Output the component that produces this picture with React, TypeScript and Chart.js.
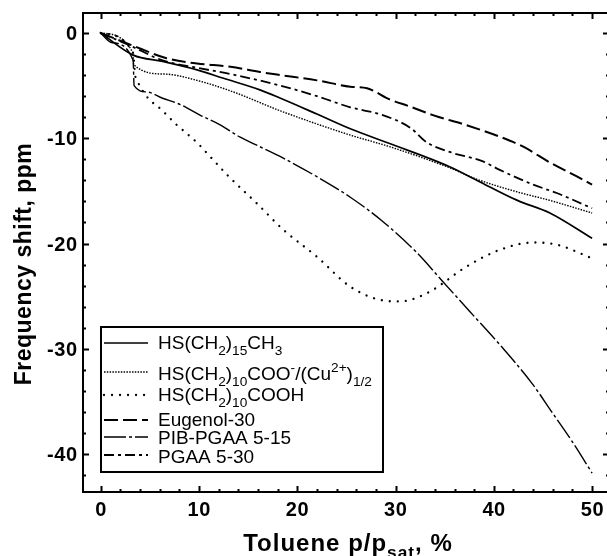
import React, { useEffect, useRef } from 'react';
import { Chart, registerables } from 'chart.js';
Chart.register(...registerables);

type P = [number, number];

// x: toluene p/psat (%), y: frequency shift (ppm)
const HS_CH3: P[] = [
  [0, 0], [3.3, -2.1], [6.3, -2.7], [9.8, -3.5], [12.5, -4.3], [16.2, -5.4], [18.3, -6.2],
  [22, -7.7], [25.4, -9.1], [29.4, -10.5], [35.5, -12.7], [38.3, -14.0], [42.4, -15.9],
  [45.7, -17.1], [50, -19.5],
];
const HS_COO_CU: P[] = [
  [0, 0], [3.3, -1.9], [3.35, -3.0], [6.5, -3.9], [9.8, -4.5], [13.5, -5.6], [18.3, -7.4],
  [25.4, -9.7], [29.4, -10.8], [35.5, -12.8], [38.3, -13.9], [42.4, -15.1], [45.7, -15.9],
  [50, -17.1],
];
const HS_COOH: P[] = [
  [0, 0], [3.3, -1.9], [3.5, -4.0], [3.7, -4.5], [4.7, -6.05], [6.2, -7.3], [7.7, -8.7],
  [8.7, -9.5], [9.9, -10.5], [10.8, -11.4], [13, -13.6], [15.9, -16.2], [18.6, -18.7],
  [22, -21.25], [25.4, -24.1], [28.7, -25.4], [30.4, -25.5], [32, -25.2], [33.8, -24.4],
  [37.2, -22.2], [40.6, -20.6], [44, -19.9], [46.4, -20.1], [50, -21.4],
];
const EUGENOL_30: P[] = [
  [0, 0], [3, -1.1], [6.7, -2.4], [9.8, -2.9], [13.2, -3.2], [16.2, -3.7], [18.3, -4.0],
  [22, -4.5], [25.4, -5.1], [27.1, -5.25], [29.4, -6.3], [31.5, -7.0], [33.8, -7.8],
  [37.2, -8.75], [40.6, -9.85], [43, -10.8], [45.7, -12.3], [48.4, -13.6], [50, -14.4],
];
const PIB_PGAA_5_15: P[] = [
  [0, 0], [1.1, -0.9], [3.3, -2.6], [3.4, -5.0], [4.7, -5.6], [6.3, -6.2], [8.1, -6.8],
  [10.1, -7.8], [12.1, -8.7], [14.2, -9.9], [16.2, -10.8], [18.3, -11.75], [22, -13.65],
  [25.4, -15.6], [28.7, -17.9], [32.1, -20.8], [34.8, -23.6], [37.6, -26.5], [40.6, -29.6],
  [43.9, -33.3], [45.9, -36.0], [47.9, -38.7], [50, -41.8],
];
const PGAA_5_30: P[] = [
  [0, 0], [3, -1.2], [6.3, -2.6], [9.8, -3.3], [13.2, -3.9], [18.3, -5.0], [22, -6.0],
  [25.4, -7.06], [28.7, -7.8], [31.5, -9.0], [33.2, -10.4], [35.5, -11.3], [38.9, -12.2],
  [40.6, -13.0], [44, -14.4], [46.4, -15.2], [50, -16.65],
];

const X_MAJOR = [0, 10, 20, 30, 40, 50];
const Y_MAJOR = [0, -10, -20, -30, -40];
const X_MIN = -1.8, X_MAX = 51.72, Y_MIN = -43.6, Y_MAX = 1.9;

type Run = { t: string; s?: 'sub' | 'sup' };
const LEGEND_LABELS: Run[][] = [
  [{ t: 'HS(CH' }, { t: '2', s: 'sub' }, { t: ')' }, { t: '15', s: 'sub' }, { t: 'CH' }, { t: '3', s: 'sub' }],
  [{ t: 'HS(CH' }, { t: '2', s: 'sub' }, { t: ')' }, { t: '10', s: 'sub' }, { t: 'COO' }, { t: '-', s: 'sup' },
   { t: '/(Cu' }, { t: '2+', s: 'sup' }, { t: ')' }, { t: '1/2', s: 'sub' }],
  [{ t: 'HS(CH' }, { t: '2', s: 'sub' }, { t: ')' }, { t: '10', s: 'sub' }, { t: 'COOH' }],
  [{ t: 'Eugenol-30' }],
  [{ t: 'PIB-PGAA 5-15' }],
  [{ t: 'PGAA 5-30' }],
];
const X_TITLE: Run[] = [{ t: 'Toluene p/p' }, { t: 'sat', s: 'sub' }, { t: ', %' }];
const Y_TITLE = 'Frequency shift, ppm';

const FONT = '"Liberation Sans", Arial, Helvetica, sans-serif';

function runFont(size: number, weight: string, r: Run) {
  const s = r.s ? size * 0.72 : size;
  return `${weight} ${s}px ${FONT}`;
}
function runsWidth(ctx: CanvasRenderingContext2D, runs: Run[], size: number, weight: string) {
  let w = 0;
  for (const r of runs) { ctx.font = runFont(size, weight, r); w += ctx.measureText(r.t).width; }
  return w;
}
function drawRuns(ctx: CanvasRenderingContext2D, runs: Run[], x: number, y: number, size: number, weight: string) {
  let cx = x;
  ctx.textBaseline = 'alphabetic';
  ctx.textAlign = 'left';
  for (const r of runs) {
    ctx.font = runFont(size, weight, r);
    const dy = r.s === 'sub' ? size * 0.3 : r.s === 'sup' ? -size * 0.42 : 0;
    ctx.fillText(r.t, cx, y + dy);
    cx += ctx.measureText(r.t).width;
  }
}

const overlay = {
  id: 'overlay',
  afterDraw(chart: any) {
    const ctx: CanvasRenderingContext2D = chart.ctx;
    const xs = chart.scales.x, ys = chart.scales.y;
    const { left, right, top, bottom } = chart.chartArea;
    ctx.save();
    ctx.fillStyle = '#000';
    ctx.strokeStyle = '#000';
    ctx.lineCap = 'butt';
    ctx.setLineDash([]);
    ctx.lineWidth = 2;
    ctx.strokeRect(left, top, right - left, bottom - top);

    // x ticks
    for (let v = 0; v <= 50; v += 2) {
      const major = X_MAJOR.includes(v);
      const len = major ? 6 : 3;
      const px = Math.round(xs.getPixelForValue(v)) + 0.5;
      ctx.lineWidth = 2;
      ctx.beginPath();
      ctx.moveTo(px, bottom); ctx.lineTo(px, bottom - len);
      ctx.moveTo(px, top); ctx.lineTo(px, top + len);
      ctx.stroke();
    }
    // y ticks
    for (let v = 0; v >= -42; v -= 2) {
      const major = Y_MAJOR.includes(v);
      const len = major ? 6 : 3;
      const py = Math.round(ys.getPixelForValue(v)) + 0.5;
      ctx.beginPath();
      ctx.moveTo(left, py); ctx.lineTo(left + len, py);
      ctx.moveTo(right, py); ctx.lineTo(right - len, py);
      ctx.stroke();
    }
    // tick labels
    const ls = 0.6;
    (ctx as any).letterSpacing = `${ls}px`;
    ctx.font = `bold 20px ${FONT}`;
    ctx.textBaseline = 'alphabetic';
    ctx.textAlign = 'left';
    for (const v of X_MAJOR) {
      const s = String(v);
      const w = ctx.measureText(s).width - ls;
      ctx.fillText(s, xs.getPixelForValue(v) - w / 2, 516);
    }
    for (const v of Y_MAJOR) {
      const s = String(v);
      const w = ctx.measureText(s).width - ls;
      ctx.fillText(s, 77 - w, ys.getPixelForValue(v) + 7);
    }
    // titles
    (ctx as any).letterSpacing = '1px';
    const tw = runsWidth(ctx, X_TITLE, 24, 'bold');
    drawRuns(ctx, X_TITLE, 348 - tw / 2, 551, 24, 'bold');
    (ctx as any).letterSpacing = '0.5px';
    ctx.save();
    ctx.translate(31, 264);
    ctx.rotate(-Math.PI / 2);
    ctx.font = `bold 23px ${FONT}`;
    ctx.textAlign = 'center';
    ctx.textBaseline = 'alphabetic';
    ctx.fillText(Y_TITLE, 0, 0);
    ctx.restore();
    (ctx as any).letterSpacing = '0px';

    // legend
    const lx0 = 101, ly0 = 327, lx1 = 383, ly1 = 472;
    ctx.fillStyle = '#fff';
    ctx.fillRect(lx0, ly0, lx1 - lx0, ly1 - ly0);
    ctx.fillStyle = '#000';
    ctx.lineWidth = 2;
    ctx.setLineDash([]);
    ctx.strokeRect(lx0, ly0, lx1 - lx0, ly1 - ly0);
    const sampleY = [343, 372, 395, 420, 437, 455];
    const textY = [349, 380, 401, 426, 444, 463];
    chart.data.datasets.forEach((ds: any, i: number) => {
      ctx.save();
      ctx.strokeStyle = ds.borderColor;
      ctx.lineWidth = ds.borderWidth;
      ctx.lineCap = ds.borderCapStyle || 'butt';
      ctx.setLineDash(ds.borderDash || []);
      ctx.beginPath();
      ctx.moveTo(104, sampleY[i]);
      ctx.lineTo(148, sampleY[i]);
      ctx.stroke();
      ctx.restore();
      drawRuns(ctx, LEGEND_LABELS[i], 158, textY[i], 19, 'normal');
    });
    ctx.restore();
  },
};

const toXY = (pts: P[]) => pts.map(([x, y]) => ({ x, y }));

export default function App() {
  const ref = useRef<HTMLCanvasElement>(null);
  useEffect(() => {
    const canvas = ref.current!;
    const chart = new Chart(canvas, {
      type: 'line',
      data: {
        datasets: [
          { label: 'HS(CH2)15CH3', data: toXY(HS_CH3), borderColor: '#000', borderWidth: 1.7, borderDash: [] },
          { label: 'HS(CH2)10COO-/(Cu2+)1/2', data: toXY(HS_COO_CU), borderColor: '#000', borderWidth: 1.4, borderDash: [1.5, 1.3] },
          { label: 'HS(CH2)10COOH', data: toXY(HS_COOH), borderColor: '#000', borderWidth: 2.3, borderDash: [0.01, 8], borderCapStyle: 'round' },
          { label: 'Eugenol-30', data: toXY(EUGENOL_30), borderColor: '#000', borderWidth: 2, borderDash: [14, 5] },
          { label: 'PIB-PGAA 5-15', data: toXY(PIB_PGAA_5_15), borderColor: '#000', borderWidth: 1.4, borderDash: [22, 3, 3, 3] },
          { label: 'PGAA 5-30', data: toXY(PGAA_5_30), borderColor: '#000', borderWidth: 1.8, borderDash: [10, 4, 3, 4] },
        ] as any,
      },
      options: {
        animation: false,
        responsive: false,
        devicePixelRatio: 1,
        layout: { padding: { left: 83, top: 13, right: 620 - 609, bottom: 556 - 492 } },
        elements: { point: { radius: 0 }, line: { cubicInterpolationMode: 'monotone' } },
        plugins: { legend: { display: false }, tooltip: { enabled: false } },
        scales: {
          x: { type: 'linear', min: X_MIN, max: X_MAX, display: false },
          y: { type: 'linear', min: Y_MIN, max: Y_MAX, display: false },
        },
      },
      plugins: [overlay],
    });
    return () => chart.destroy();
  }, []);
  return (
    <div style={{ position: 'fixed', left: 0, top: 0, width: 607, height: 556, overflow: 'hidden', background: '#fff' }}>
      <canvas ref={ref} width={620} height={556} style={{ width: 620, height: 556, display: 'block' }} />
    </div>
  );
}
